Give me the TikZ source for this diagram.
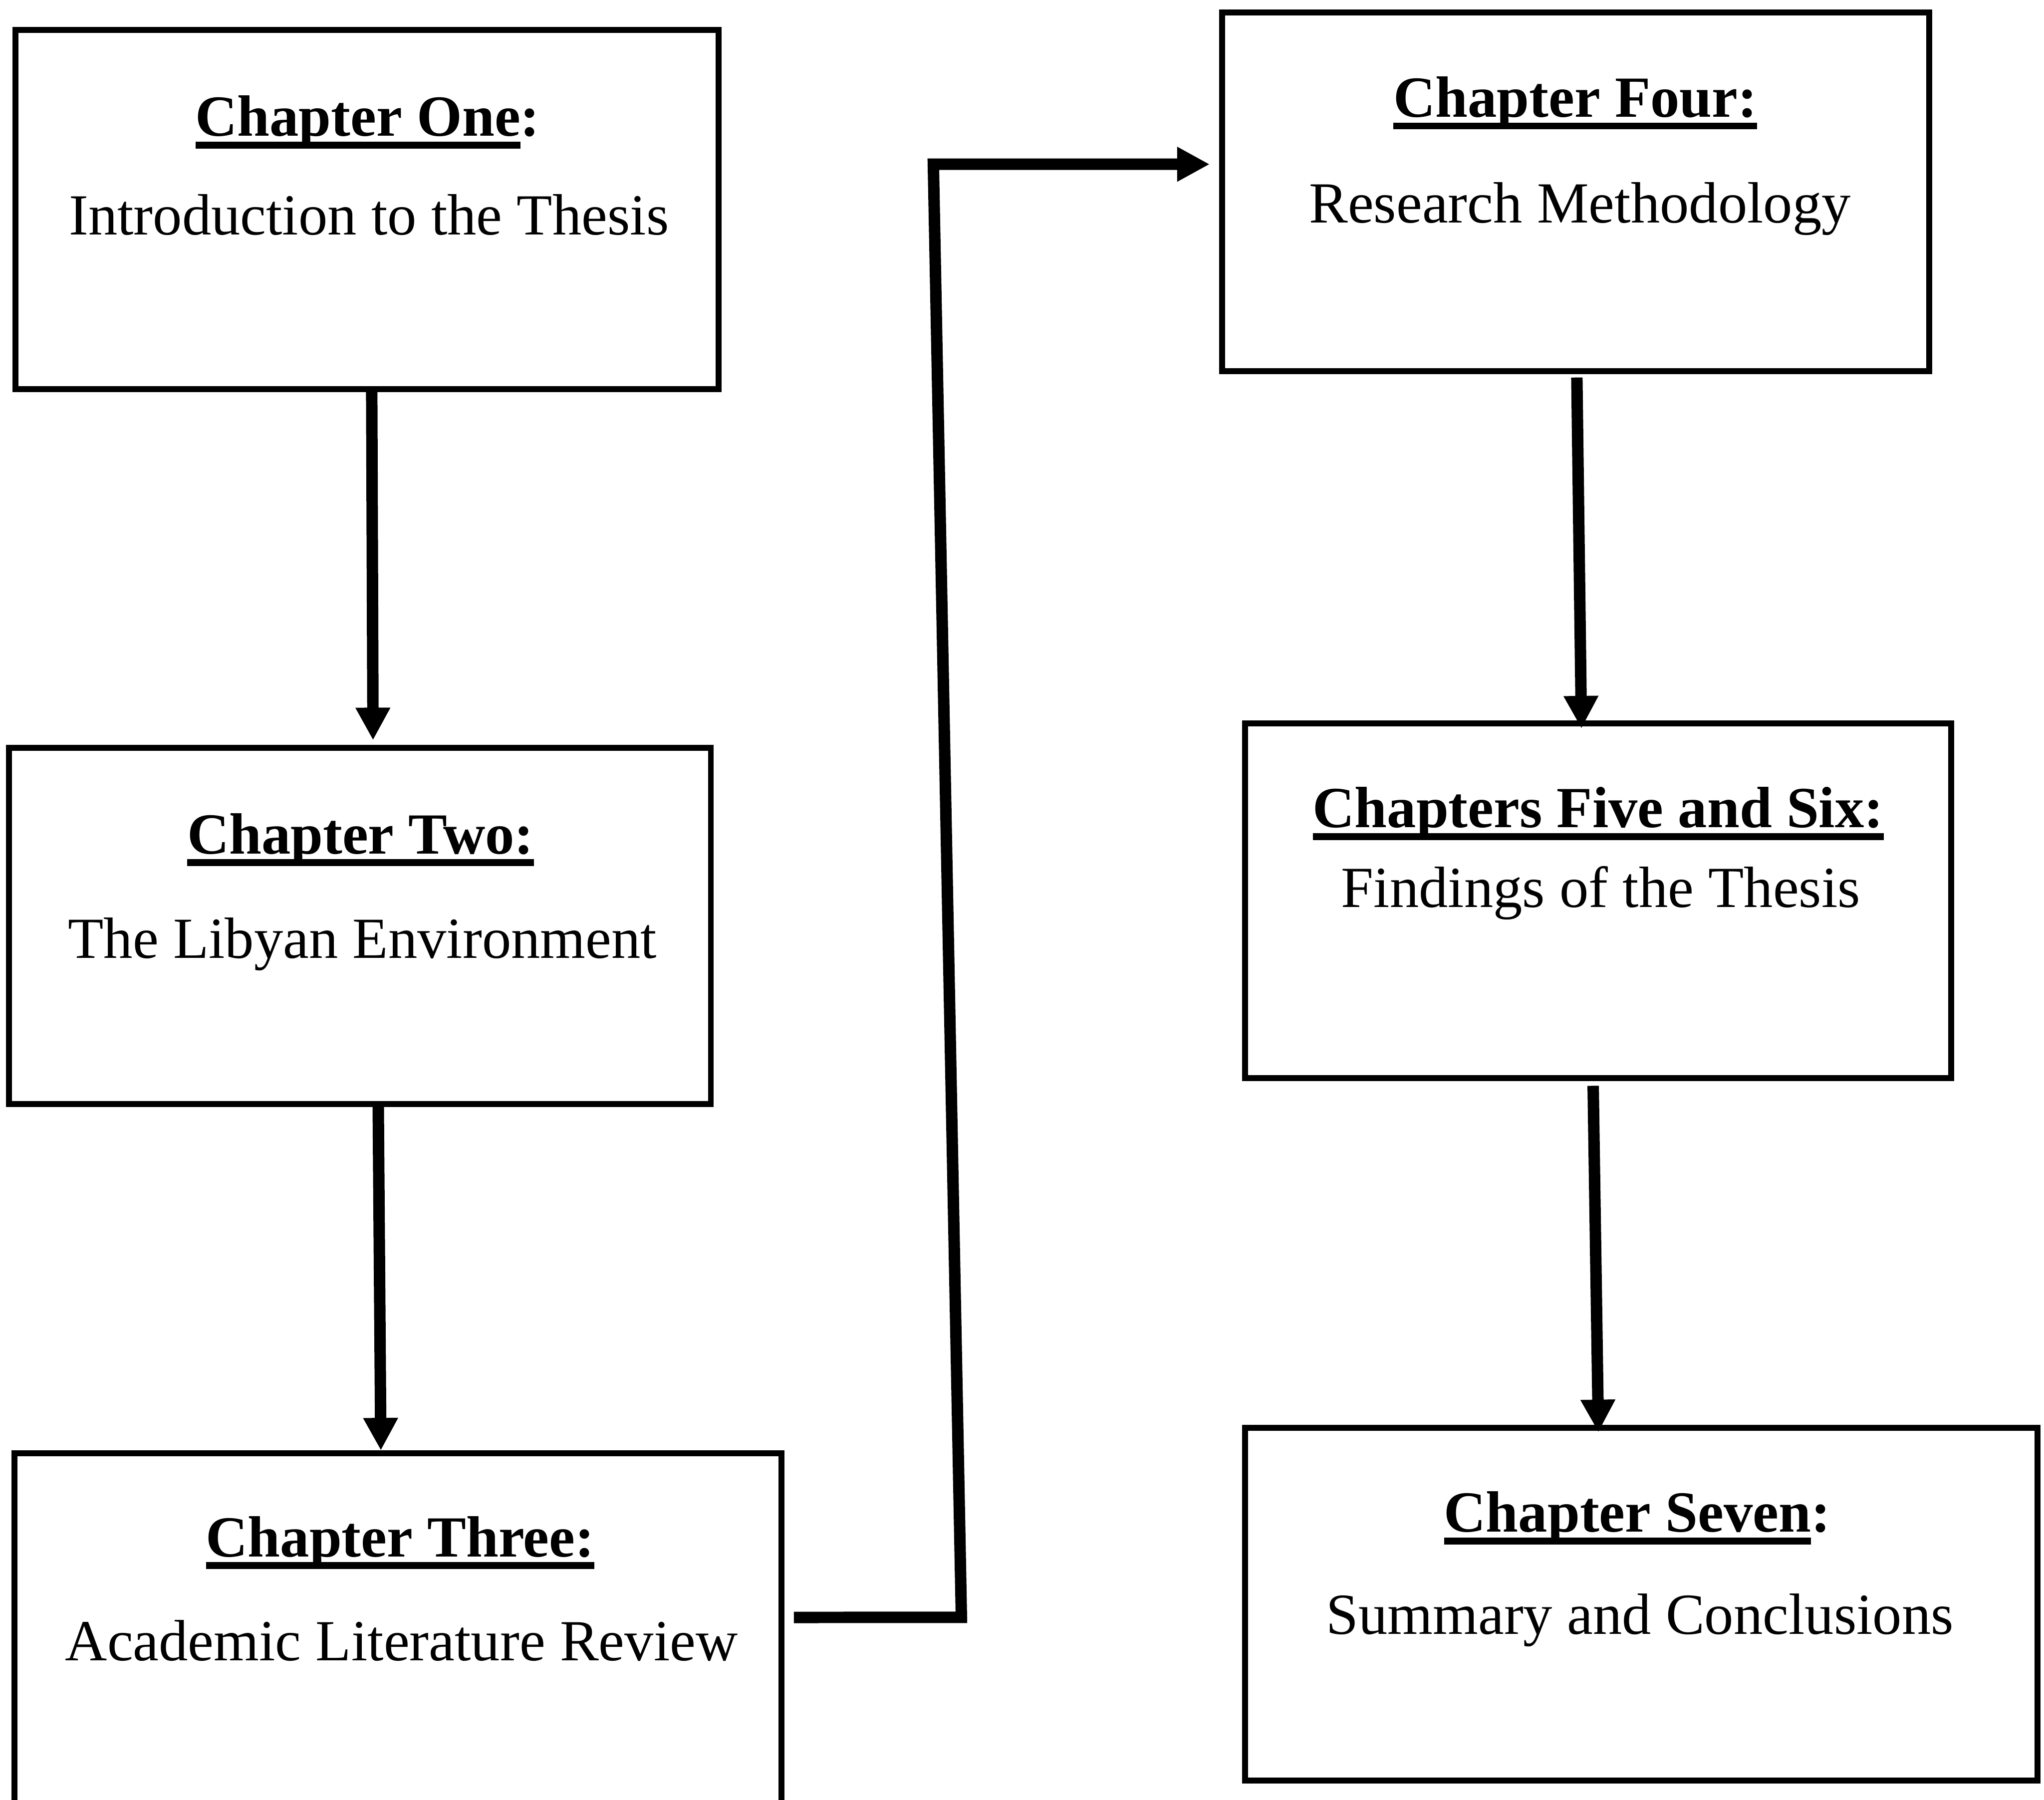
\documentclass[tikz,border=0pt]{standalone}
\usepackage{fontspec}
\setmainfont{Liberation Serif}
\usetikzlibrary{arrows.meta,calc}
\newcommand\ulx[1]{\setbox0\hbox{#1}\rlap{\raisebox{-2.7pt}{\rule{\wd0}{1.5pt}}}\box0}
\begin{document}
\begin{tikzpicture}[x=0.01cm,y=-0.01cm,
  box/.style={draw, line width=1.3pt, rectangle, outer sep=0pt, inner sep=0pt, anchor=north west},
  arr/.style={line width=2.5pt, -{Triangle[length=0.25cm,width=0.25cm]}, line join=miter},
  ttl/.style={anchor=base, inner sep=0pt, font=\fontsize{12.7}{15}\selectfont\bfseries},
  sub/.style={anchor=base, inner sep=0pt, font=\fontsize{12.7}{15}\selectfont}]
\useasboundingbox (0,0) rectangle (1568,1381);
\fill[white] (0,0) rectangle (1568,1381);
\clip (0,0) rectangle (1568,1381);

% boxes
\node[box, minimum width=5.39cm, minimum height=2.756cm] (b1) at (12,23) {};
\node[box, minimum width=5.38cm, minimum height=2.73cm] (b2) at (7,574) {};
\node[box, minimum width=5.88cm, minimum height=3.05cm] (b3) at (11,1115) {};
\node[box, minimum width=5.42cm, minimum height=2.751cm] (b4) at (937.5,9.4) {};
\node[box, minimum width=5.415cm, minimum height=2.72cm] (b5) at (955,555) {};
\node[box, minimum width=6.075cm, minimum height=2.704cm] (b6) at (955,1095.6) {};

% texts
\node[ttl] (t1) at (282,104.5) {\ulx{Chapter One}:};
\node[sub] (s1) at (283,180) {Introduction to the Thesis};
\node[ttl] (t2) at (276.5,655) {\ulx{Chapter Two:}};
\node[sub] (s2) at (278,735) {The Libyan Environment};
\node[ttl] (t3) at (307,1194.5) {\ulx{Chapter Three:}};
\node[sub] (s3) at (308,1274) {Academic Literature Review};
\node[ttl] (t4) at (1208.5,89.8) {\ulx{Chapter Four:}};
\node[sub] (s4) at (1212,171) {Research Methodology};
\node[ttl] (t5) at (1226,635) {\ulx{Chapters Five and Six:}};
\node[sub] (s5) at (1228,696) {Findings of the Thesis};
\node[ttl] (t6) at (1256,1175.5) {\ulx{Chapter Seven}:};
\node[sub] (s6) at (1258,1253.8) {Summary and Conclusions};

% connectors
\draw[arr] ($(b1.south)+(3.5,0)$) -- ($(b2.north)+(10,-6)$);
\draw[arr] ($(b2.south)+(14,0)$) -- ($(b3.north)+(-13,-2)$);
\coordinate (c3) at ($(b3.east)+(9.7,-26.5)$);
\draw[arr] (c3) -- (737.5,1241) -- (716,126) -- ($(b4.west)+(-9.5,-21)$);
\draw[arr] ($(b4.south)+(1,5)$) -- ($(b5.north)+(-12.75,4)$);
\draw[arr] ($(b5.south)+(-3.75,6)$) -- ($(b6.north)+(-32.75,3.4)$);
\end{tikzpicture}
\end{document}
